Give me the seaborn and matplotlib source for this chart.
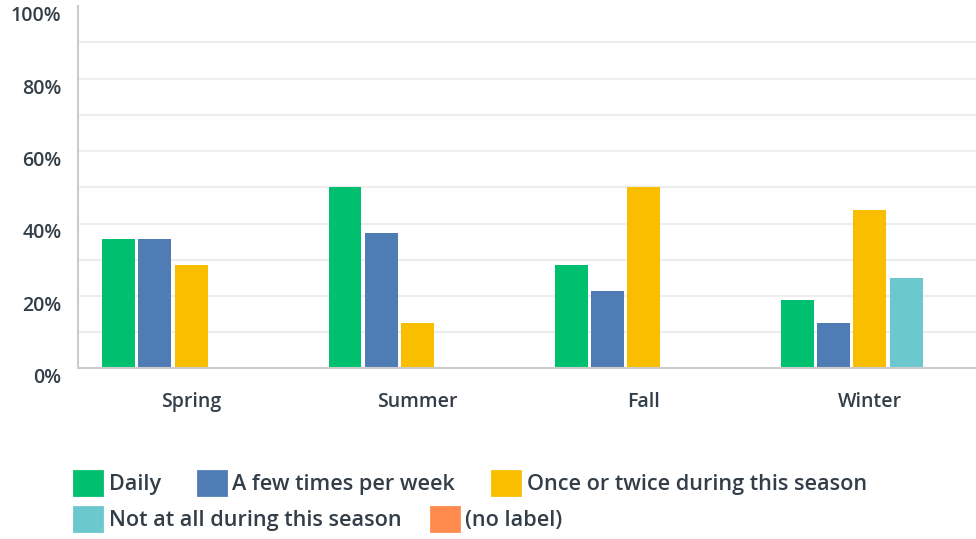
import pandas as pd
import numpy as np
import matplotlib.pyplot as plt
import matplotlib.patches as mpatches
from matplotlib.ticker import FuncFormatter
import seaborn as sns

# ── Data ──────────────────────────────────────────────────────────────────────
SEASONS = ["Spring", "Summer", "Fall", "Winter"]
SERIES = ["Daily", "A few times per week", "Once or twice during this season",
          "Not at all during this season", "(no label)"]
daily      = [35.7, 50.0, 28.6, 18.75]
few_week   = [35.7, 37.5, 21.4, 12.5]
once_twice = [28.6, 12.5, 50.0, 43.75]
not_at_all = [0.0, 0.0, 0.0, 25.0]
no_label   = [0.0, 0.0, 0.0, 0.0]
Y_TICKS = [0, 20, 40, 60, 80, 100]

COLORS = ["#00BF6F", "#507CB6", "#F9BE00", "#6BC8CD", "#FF8B4F"]
TEXT = "#333E48"

rows = []
for name, vals in zip(SERIES, [daily, few_week, once_twice, not_at_all, no_label]):
    for season, v in zip(SEASONS, vals):
        rows.append({"season": season, "series": name, "pct": v})
df = pd.DataFrame(rows)

# ── Style ─────────────────────────────────────────────────────────────────────
sns.set_style("white")
plt.rcParams["font.family"] = ["Open Sans", "DejaVu Sans"]

fig = plt.figure(figsize=(9.76, 5.39), dpi=100)
# plot area runs slightly past the right edge of the figure
ax = fig.add_axes([78 / 976, 170.7 / 539, 905 / 976, 362 / 539])

sns.barplot(data=df, x="season", y="pct", hue="series", order=SEASONS,
            hue_order=SERIES, palette=COLORS, ax=ax, gap=0.09,
            saturation=1, legend=False, linewidth=0)

ax.set_ylim(0, 100)
ax.set_xlim(-0.5, 3.5)
ax.set_yticks(Y_TICKS)
ax.yaxis.set_major_formatter(FuncFormatter(lambda v, _: f"{v:.0f}%"))
ax.set_yticks(np.arange(10, 100, 10), minor=True)
ax.grid(axis="y", which="both", color="#EDEDED", linewidth=1.5)
ax.set_axisbelow(True)
ax.set_xlabel("")
ax.set_ylabel("")

for s in ["top", "right"]:
    ax.spines[s].set_visible(False)
for s in ["left", "bottom"]:
    ax.spines[s].set_color("#CCCCCC")
    ax.spines[s].set_linewidth(1.5)

ax.tick_params(axis="both", which="both", length=0)
ax.tick_params(axis="x", pad=17, labelsize=14, labelcolor=TEXT)
ax.tick_params(axis="y", pad=12, labelsize=14, labelcolor=TEXT)
for lab in ax.get_xticklabels() + ax.get_yticklabels():
    lab.set_fontweight(600)
for lab in ax.get_yticklabels():
    lab.set_verticalalignment("top")
# hide the 100% gridline
ax.yaxis.get_major_ticks()[-1].gridline.set_visible(False)

# ── Legend (two flowing rows) ─────────────────────────────────────────────────
def handles(idx):
    return [mpatches.Patch(facecolor=COLORS[i], edgecolor=COLORS[i],
                           linewidth=2, joinstyle="round") for i in idx]

leg_kw = dict(frameon=False, handlelength=1.3, handleheight=1.3,
              handletextpad=0.3, borderpad=0, borderaxespad=0, loc="upper left",
              labelcolor=TEXT, prop={"weight": 600, "size": 15.6})
fig.legend(handles(range(3)), SERIES[:3], ncol=3, columnspacing=1.7,
           bbox_to_anchor=(74 / 976, 1 - 471 / 539), **leg_kw)
fig.legend(handles(range(3, 5)), SERIES[3:], ncol=2, columnspacing=1.35,
           bbox_to_anchor=(74 / 976, 1 - 507 / 539), **leg_kw)

fig.savefig("out.png", dpi=100)
